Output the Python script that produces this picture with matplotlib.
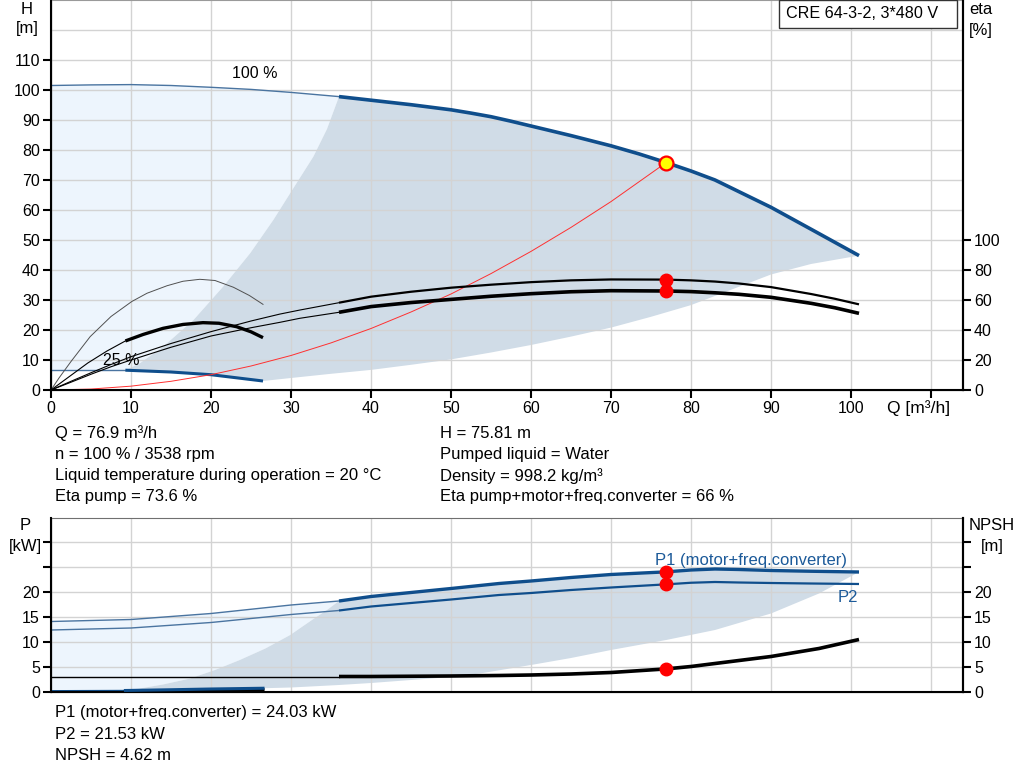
import numpy as np
import matplotlib.pyplot as plt

plt.rcParams['font.family'] = ['Liberation Sans', 'DejaVu Sans']

# ---- data ----
# head curve 100 % speed
q_h100 = np.array([0, 5, 10, 15, 20, 25, 30, 36, 40, 45, 50, 52.5, 55, 57.5, 60, 62.5, 65, 67.5,
                   70, 73.5, 76.9, 80, 83, 90, 95, 101])
h_100 = np.array([101.5, 101.7, 101.8, 101.5, 100.9, 100.2, 99.2, 97.8, 96.6, 95.1, 93.4, 92.3,
                  91.1, 89.6, 88.0, 86.4, 84.8, 83.1, 81.4, 78.7, 75.81, 73.0, 70.0, 60.9, 53.6, 44.8])
# head curve 25 % speed
q_h25 = np.array([0, 9.3, 15, 20, 26.5])
h_25 = np.array([6.6, 6.6, 6.0, 5.1, 3.0])
# limits of the operating area (H)
q_left = np.array([9.3, 11.1, 14, 17.8, 21.5, 24.9, 27.8, 29.9, 32.8, 34.5, 36])
h_left = np.array([6.6, 8.9, 14.4, 23.3, 34.4, 45.6, 56.7, 65.6, 77.8, 87.0, 97.8])
q_low = np.array([26.5, 30, 35, 40, 45, 50, 55, 60, 65, 70, 75, 80, 85, 90, 95, 101])
h_low = np.array([3.0, 4.0, 5.4, 6.7, 8.4, 10.2, 12.5, 15.0, 17.8, 20.8, 24.4, 28.3, 33.4, 38.5, 42.0, 44.8])
# system curve
q_sys = np.array([0, 5, 10, 15, 20, 25, 30, 35, 40, 45, 50, 55, 60, 65, 70, 76.9])
h_sys = np.array([0, 0.32, 1.28, 2.9, 5.1, 8.0, 11.5, 15.7, 20.5, 26.0, 32.0, 38.8, 46.2, 54.2,
                  62.8, 75.81])
# efficiency 100 %
q_eta = np.array([0, 2.5, 5, 7.5, 10, 15, 20, 25, 28.6, 31.1, 36, 40, 45, 50, 55, 60, 65, 70,
                  76.9, 80, 83, 86, 90, 95, 98, 101])
eta_pump = np.array([0, 5.8, 11.5, 17.0, 22.2, 31.0, 38.9, 46.0, 50.6, 53.3, 58.2, 62.2, 65.5,
                     68.2, 70.2, 71.9, 73.1, 73.7, 73.6, 73.1, 72.3, 71.0, 68.6, 64.0, 60.8, 57.1])
eta_tot = np.array([0, 5.2, 10.5, 15.5, 20.0, 28.5, 36.0, 41.5, 45.1, 47.8, 51.8, 55.6, 58.3,
                    60.4, 62.5, 64.2, 65.5, 66.2, 66.0, 65.6, 64.8, 63.8, 61.8, 57.8, 54.8, 51.1])
# efficiency 25 %
q_eta25p = np.array([0, 1, 2.5, 4.9, 7.5, 10.1, 12, 14.5, 16.5, 18.6, 20.5, 22.8, 24.8, 26.5])
eta25_pump = np.array([0, 8, 19, 35.6, 49, 59, 64.5, 69.5, 72.5, 73.8, 73.0, 68.5, 63.0, 57.1])
q_eta25t = np.array([0, 2.3, 4.6, 7, 9.3, 11.5, 14, 16.5, 19, 21, 23.2, 25, 26.5])
eta25_tot = np.array([0, 9, 18, 26, 32.7, 37.0, 41.1, 43.7, 44.9, 44.5, 42.2, 38.8, 34.9])

# power / NPSH
q_p100 = np.array([0, 10, 20, 30, 36, 40, 50, 56, 60, 65, 70, 76.9, 80, 83, 86, 90, 95, 101])
p1_100 = np.array([14.1, 14.5, 15.7, 17.4, 18.2, 19.1, 20.7, 21.7, 22.2, 22.9, 23.5, 24.03,
                   24.4, 24.6, 24.5, 24.3, 24.15, 24.0])
p2_100 = np.array([12.4, 12.8, 13.9, 15.5, 16.3, 17.1, 18.5, 19.4, 19.8, 20.4, 20.9, 21.53,
                   21.85, 22.0, 21.9, 21.8, 21.7, 21.6])
q_p25 = np.array([0, 9.3, 15, 20, 26.5])
p1_25 = np.array([0.25, 0.3, 0.45, 0.6, 0.75])
p2_25 = np.array([0.15, 0.2, 0.35, 0.5, 0.6])
q_npsh = np.array([0, 36, 40, 50, 56, 60, 65, 70, 76.9, 80, 83, 86, 90, 96, 101])
npsh_100 = np.array([3.1, 3.1, 3.1, 3.2, 3.3, 3.4, 3.6, 3.9, 4.62, 5.1, 5.7, 6.3, 7.1, 8.7, 10.5])
q_npsh25 = np.array([9.3, 15, 20, 26.5])
npsh_25 = np.array([0.1, 0.15, 0.25, 0.45])
q_pleft = np.array([9.3, 11.1, 14, 17.4, 20.5, 23.6, 26.8, 29.9, 32.8, 34.5, 36])
p_left = np.array([0.3, 0.7, 1.5, 2.7, 4.4, 6.4, 8.7, 11.4, 14.6, 16.4, 18.2])
q_plow = np.array([26.5, 30, 36, 40, 45, 50, 53.6, 60, 65, 70, 76.9, 83, 90, 96, 101])
p_low = np.array([0.75, 0.9, 1.4, 1.8, 2.4, 3.0, 3.7, 5.4, 6.8, 8.4, 10.4, 12.4, 15.7, 19.7, 24.0])

# duty point
q_dp, h_dp = 76.9, 75.81
eta_p_dp, eta_t_dp = 73.6, 66
p1_dp, p2_dp, npsh_dp = 24.03, 21.53, 4.62
q_min, q_min25 = 36, 9.3

x_ticks = list(range(0, 111, 10))
x_labels = [str(v) for v in range(0, 101, 10)] + ['']

# ---- style ----
BLUE = '#0f4e8c'
BLUE_THIN = '#4a74a0'
LIGHT = '#edf5fd'
DARK = '#d0dce7'
GRID = '#d3d3d3'
TICK_FS = 11.5
CAP_FS = 12

W, H = 1024, 781
fig = plt.figure(figsize=(W / 100, H / 100), dpi=100)


def fx(px):
    return px / W


def fy(py):
    return 1 - py / H


def style_axes(ax):
    ax.set_axisbelow(True)
    ax.grid(True, color=GRID, lw=1.0)
    for s in ['left', 'bottom', 'right']:
        ax.spines[s].set_linewidth(1.5)
    ax.spines['top'].set_color('#9a9a9a')
    ax.tick_params(direction='out', length=6, width=1.5, labelsize=TICK_FS, pad=2)


# ================= top panel =================
ax = fig.add_axes([fx(51), fy(390), (963 - 51) / W, 390 / H])
style_axes(ax)
ax.set_xlim(0, 114)
ax.set_ylim(0, 130)
ax.set_xticks(x_ticks)
ax.set_xticklabels(x_labels)
ax.set_yticks(range(0, 111, 10))
ax.axhline(120, color=GRID, lw=1.0, zorder=0.5)

m = q_h100 <= q_min
lx = np.concatenate([q_h100[m], q_left[::-1], [0]])
ly = np.concatenate([h_100[m], h_left[::-1], [h_25[0]]])
ax.fill(lx, ly, color=LIGHT, lw=0, zorder=0.2)
m2 = q_h100 >= q_min
k = q_h25 >= q_min25
dx = np.concatenate([q_h100[m2], q_low[::-1], q_h25[k][::-1], q_left])
dy = np.concatenate([h_100[m2], h_low[::-1], h_25[k][::-1], h_left])
ax.fill(dx, dy, color=DARK, lw=0, zorder=0.3)

ax.plot(q_h100[m], h_100[m], color=BLUE_THIN, lw=1.0)
ax.plot(q_h100[m2], h_100[m2], color=BLUE, lw=2.6, solid_capstyle='butt')
ax.plot(q_h25[q_h25 <= q_min25], h_25[q_h25 <= q_min25], color=BLUE_THIN, lw=1.0)
ax.plot(q_h25[k], h_25[k], color=BLUE, lw=2.2, solid_capstyle='butt')
ax.plot(q_sys, h_sys, color='#ff3030', lw=0.7)

ax.text(25.5, 105.5, '100 %', fontsize=11.5, ha='center', va='center')
ax.text(8.8, 10, '25 %', fontsize=11.5, ha='center', va='center')

ax2 = ax.twinx()
ax2.set_ylim(0, 260)
ax2.set_yticks(range(0, 101, 20))
ax2.spines['right'].set_linewidth(1.5)
ax2.spines['top'].set_visible(False)
ax2.tick_params(direction='out', length=6, width=1.5, labelsize=TICK_FS, pad=2)

e = q_eta <= q_min
e2 = q_eta >= q_min
ax2.plot(q_eta[e], eta_pump[e], color='black', lw=0.8)
ax2.plot(q_eta[e2], eta_pump[e2], color='black', lw=1.6, solid_capstyle='butt')
ax2.plot(q_eta[e], eta_tot[e], color='black', lw=0.8)
ax2.plot(q_eta[e2], eta_tot[e2], color='black', lw=2.6, solid_capstyle='butt')
ax2.plot(q_eta25p, eta25_pump, color='#505050', lw=0.7)
t = q_eta25t <= q_min25
t2 = q_eta25t >= q_min25
ax2.plot(q_eta25t[t], eta25_tot[t], color='black', lw=0.8)
ax2.plot(q_eta25t[t2], eta25_tot[t2], color='black', lw=2.4, solid_capstyle='butt')

ax2.plot([q_dp, q_dp], [eta_p_dp, eta_t_dp], 'o', color='red', ms=9, zorder=5)
ax.plot(q_dp, h_dp, 'o', mfc='#ffff00', mec='red', mew=1.6, ms=10, zorder=5)
ax2.set_zorder(ax.get_zorder() + 1)

# axis captions
fig.text(fx(27), fy(9), 'H', fontsize=CAP_FS, ha='center', va='center')
fig.text(fx(27), fy(29), '[m]', fontsize=CAP_FS, ha='center', va='center')
fig.text(fx(981), fy(10), 'eta', fontsize=CAP_FS, ha='center', va='center')
fig.text(fx(981), fy(30), '[%]', fontsize=CAP_FS, ha='center', va='center')
fig.text(fx(919), fy(408), 'Q [m³/h]', fontsize=12.5, ha='center', va='center')

# pump name box
fig.patches.append(plt.Rectangle((fx(779), fy(28)), (957 - 779) / W, 28 / H, transform=fig.transFigure,
                                 fc='white', ec='#333333', lw=1.0, zorder=10))
fig.text(fx(786), fy(14), 'CRE 64-3-2, 3*480 V', fontsize=11.6, ha='left', va='center', zorder=11)

info_left = ['Q = 76.9 m³/h', 'n = 100 % / 3538 rpm',
             'Liquid temperature during operation = 20 °C', 'Eta pump = 73.6 %']
info_right = ['H = 75.81 m', 'Pumped liquid = Water', 'Density = 998.2 kg/m³',
              'Eta pump+motor+freq.converter = 66 %']
for i, (a, b) in enumerate(zip(info_left, info_right)):
    y = 433 + i * 21.3
    fig.text(fx(55), fy(y), a, fontsize=12, ha='left', va='center')
    fig.text(fx(440), fy(y), b, fontsize=12, ha='left', va='center')

# ================= bottom panel =================
bx = fig.add_axes([fx(51), fy(692), (963 - 51) / W, 174 / H])
style_axes(bx)
bx.spines['top'].set_color('#707070')
bx.set_xlim(0, 114)
bx.set_ylim(0, 34.8)
bx.set_xticks(x_ticks)
bx.set_xticklabels([])
bx.tick_params(axis='x', length=0)
bx.set_yticks(range(0, 31, 5))
bx.set_yticklabels(['0', '5', '10', '15', '20', '', ''])

m = q_p100 <= q_min
m2 = q_p100 >= q_min
lx = np.concatenate([q_p100[m], q_pleft[::-1], [0]])
ly = np.concatenate([p1_100[m], p_left[::-1], [p1_25[0]]])
bx.fill(lx, ly, color=LIGHT, lw=0, zorder=0.2)
k = q_p25 >= q_min25
dx = np.concatenate([q_p100[m2], q_plow[::-1], q_p25[k][::-1], q_pleft])
dy = np.concatenate([p1_100[m2], p_low[::-1], p1_25[k][::-1], p_left])
bx.fill(dx, dy, color=DARK, lw=0, zorder=0.3)

bx.plot(q_p100[m], p1_100[m], color=BLUE_THIN, lw=1.0)
bx.plot(q_p100[m2], p1_100[m2], color=BLUE, lw=2.4, solid_capstyle='butt')
bx.plot(q_p100[m], p2_100[m], color=BLUE_THIN, lw=1.0)
bx.plot(q_p100[m2], p2_100[m2], color=BLUE, lw=1.6, solid_capstyle='butt')
bx.plot(q_p25[q_p25 <= q_min25], p1_25[q_p25 <= q_min25], color=BLUE, lw=1.0)
bx.plot(q_p25[k], p2_25[k], color=BLUE, lw=1.6)

bx.text(87.5, 26.4, 'P1 (motor+freq.converter)', color='#1c5a99', fontsize=12, ha='center', va='center')
bx.text(99.6, 19.0, 'P2', color='#1c5a99', fontsize=12, ha='center', va='center')

b2 = bx.twinx()
b2.set_ylim(0, 34.8)
b2.set_yticks(range(0, 31, 5))
b2.set_yticklabels(['0', '5', '10', '15', '20', '', ''])
b2.spines['right'].set_linewidth(1.5)
b2.spines['top'].set_visible(False)
b2.tick_params(direction='out', length=6, width=1.5, labelsize=TICK_FS, pad=2)

n = q_npsh <= q_min
n2 = q_npsh >= q_min
b2.plot(q_npsh[n], npsh_100[n], color='black', lw=1.0)
b2.plot(q_npsh[n2], npsh_100[n2], color='black', lw=2.6, solid_capstyle='butt')
b2.plot(q_npsh25, npsh_25, color='black', lw=2.2)
b2.plot(q_p25[k], p1_25[k], color=BLUE, lw=2.2)

b2.plot([q_dp, q_dp, q_dp], [p1_dp, p2_dp, npsh_dp], 'o', color='red', ms=9, zorder=5)
b2.set_zorder(bx.get_zorder() + 1)

fig.text(fx(25), fy(526), 'P', fontsize=CAP_FS, ha='center', va='center')
fig.text(fx(25), fy(547), '[kW]', fontsize=CAP_FS, ha='center', va='center')
fig.text(fx(992), fy(526), 'NPSH', fontsize=CAP_FS, ha='center', va='center')
fig.text(fx(992), fy(547), '[m]', fontsize=CAP_FS, ha='center', va='center')

info_bottom = ['P1 (motor+freq.converter) = 24.03 kW', 'P2 = 21.53 kW', 'NPSH = 4.62 m']
for i, s in enumerate(info_bottom):
    fig.text(fx(55), fy(713 + i * 21.5), s, fontsize=12, ha='left', va='center')

fig.savefig('out.png', dpi=100)
